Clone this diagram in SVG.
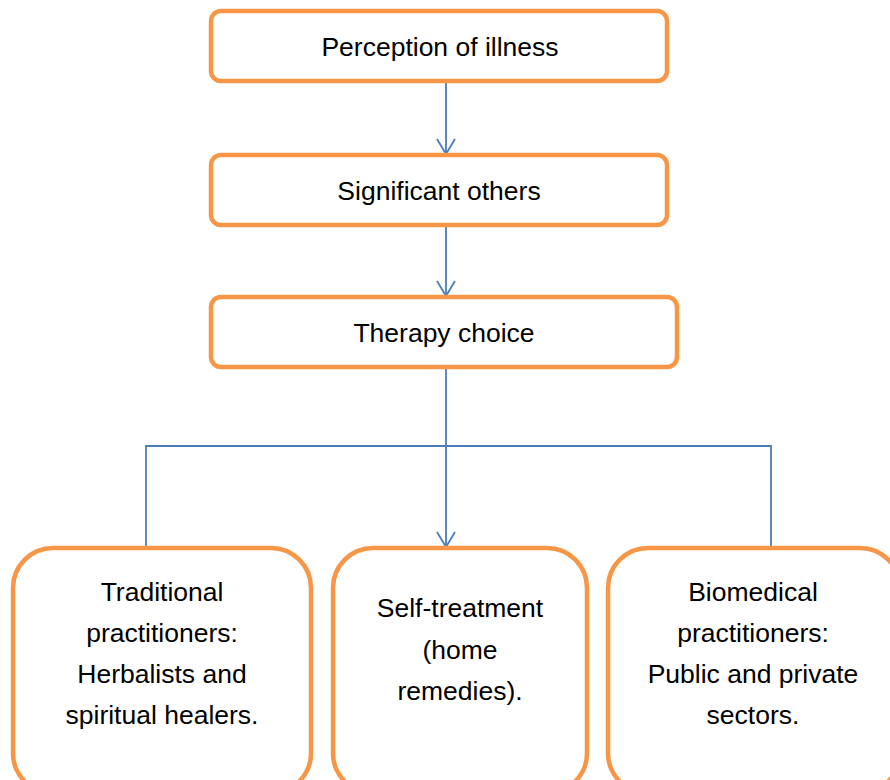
<svg xmlns="http://www.w3.org/2000/svg" width="890" height="780" viewBox="0 0 890 780">
<style>
.box{fill:#fff;stroke:#F79646;stroke-width:4.5}
.t{font-family:"Liberation Sans",Arial,sans-serif;font-size:26.5px;fill:#000;text-anchor:middle}
.c{stroke:#4A7EBB;stroke-width:1.8;fill:none}
</style>
<defs>
<marker id="a" markerUnits="userSpaceOnUse" markerWidth="20" markerHeight="24" refX="17" refY="10" orient="auto" viewBox="0 0 20 20">
<path d="M2,1 L17,10 L2,19" fill="none" stroke="#4A7EBB" stroke-width="1.8"/>
</marker>
</defs>
<rect width="890" height="780" fill="#fff"/>
<g id="connectors">
<line class="c" x1="446" y1="82" x2="446" y2="154" marker-end="url(#a)"/>
<line class="c" x1="446" y1="226" x2="446" y2="296" marker-end="url(#a)"/>
<line class="c" x1="446" y1="368" x2="446" y2="547" marker-end="url(#a)"/>
<polyline class="c" points="146,548 146,446 771,446 771,548"/>
</g>
<g id="n1">
<rect class="box" x="211" y="11" width="456" height="70" rx="10"/>
<text class="t" x="440" y="56">Perception of illness</text>
</g>
<g id="n2">
<rect class="box" x="211" y="155" width="456" height="70" rx="10"/>
<text class="t" x="439" y="200">Significant others</text>
</g>
<g id="n3">
<rect class="box" x="211" y="297" width="466" height="70" rx="10"/>
<text class="t" x="444" y="342">Therapy choice</text>
</g>
<g id="n4">
<rect class="box" x="13" y="548" width="298" height="245" rx="40"/>
<text class="t" x="162" y="601">Traditional</text>
<text class="t" x="162" y="642">practitioners:</text>
<text class="t" x="162" y="683">Herbalists and</text>
<text class="t" x="162" y="724">spiritual healers.</text>
</g>
<g id="n5">
<rect class="box" x="333" y="548" width="254" height="245" rx="40"/>
<text class="t" x="460" y="617">Self-treatment</text>
<text class="t" x="460" y="659">(home</text>
<text class="t" x="460" y="700">remedies).</text>
</g>
<g id="n6">
<rect class="box" x="608" y="548" width="292" height="245" rx="40"/>
<text class="t" x="753" y="601">Biomedical</text>
<text class="t" x="753" y="642">practitioners:</text>
<text class="t" x="753" y="683">Public and private</text>
<text class="t" x="753" y="724">sectors.</text>
</g>
</svg>
